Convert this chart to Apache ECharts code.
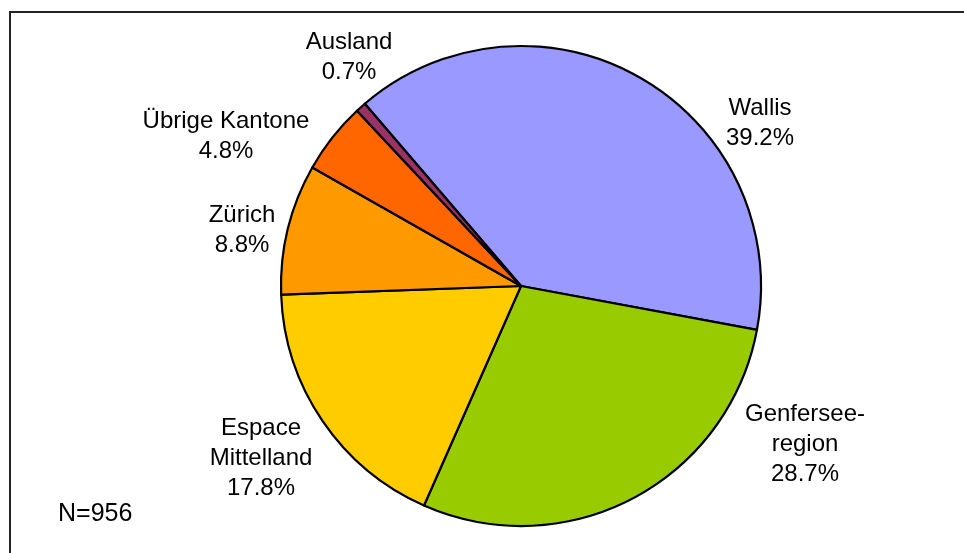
<!DOCTYPE html>
<html>
<head>
<meta charset="utf-8">
<script src="https://cdn.jsdelivr.net/npm/echarts@6/dist/echarts.min.js"></script>
<style>
  html, body { margin: 0; padding: 0; background: #fff; }
  #main { width: 964px; height: 553px; }
</style>
</head>
<body>
<div id="main"></div>
<script>
// data
var categories = ['Wallis', 'Genfersee-\nregion', 'Espace\nMittelland', 'Zürich', 'Übrige Kantone', 'Ausland']
var shares = [39.2, 28.7, 17.8, 8.8, 4.8, 0.7]
var sliceColors = ['#9999FF', '#99CC00', '#FFCC00', '#FF9900', '#FF6600', '#993366']
var note = 'N=956'

// where Excel put each data label (centre of the text block)
var labelSpots = [[760, 123], [805, 444], [261, 458], [242, 230], [226, 136], [349, 57]]

function main() {
  var myChart = echarts.init(document.getElementById('main'))
  var pieData = categories.map(function (c, i) {
    return { name: c, value: shares[i], itemStyle: { color: sliceColors[i] } }
  })
  var option = {
    animation: false,
    textStyle: { fontFamily: 'Liberation Sans, Arial, sans-serif' },
    graphic: [
      {
        type: 'rect',
        shape: { x: 10, y: 12, width: 1000, height: 600 },
        style: { fill: 'none', stroke: '#222', lineWidth: 2 },
        silent: true
      },
      {
        type: 'text',
        left: 58,
        top: 502,
        style: { text: note, fontSize: 25, fill: '#000', fontFamily: 'Liberation Sans, Arial, sans-serif' }
      }
    ],
    series: [{
      type: 'pie',
      center: [521, 286],
      radius: 240,
      startAngle: 130.6,
      clockwise: true,
      data: pieData,
      itemStyle: { borderColor: '#000', borderWidth: 2.2 },
      emphasis: { disabled: true },
      label: {
        show: true,
        position: 'outside',
        color: '#000',
        fontSize: 24,
        lineHeight: 30,
        align: 'center',
        fontFamily: 'Liberation Sans, Arial, sans-serif',
        formatter: function (p) {
          return p.name + '\n' + p.value.toFixed(1) + '%'
        }
      },
      labelLine: { show: false },
      labelLayout: function (p) {
        var s = labelSpots[p.dataIndex]
        return { x: s[0], y: s[1], align: 'center', verticalAlign: 'middle' }
      }
    }]
  }
  myChart.setOption(option)
}

window.onload = main
</script>
</body>
</html>
